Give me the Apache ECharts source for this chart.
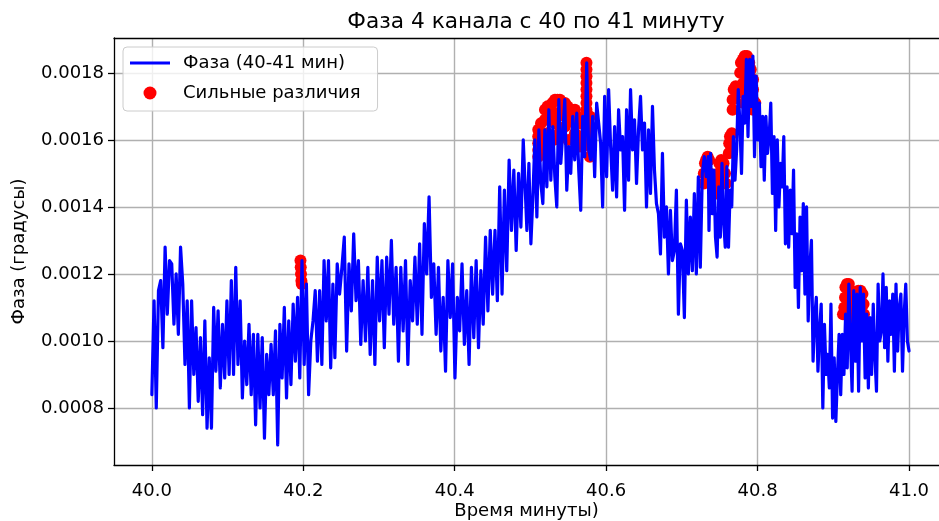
<!DOCTYPE html>
<html><head><meta charset="utf-8">
<script src="https://cdn.jsdelivr.net/npm/echarts@6/dist/echarts.min.js"></script>
<style>html,body{margin:0;padding:0;background:#fff}#c{width:939px;height:521px}</style>
</head><body><div id="c"></div>
<script>
const titleText = 'Фаза 4 канала с 40 по 41 минуту';
const xName = 'Время минуты)';
const yName = 'Фаза (градусы)';
const lineName = 'Фаза (40-41 мин)';
const scatterName = 'Сильные различия';
const xTicks = [40.0, 40.2, 40.4, 40.6, 40.8, 41.0];
const yTicks = [0.0008, 0.0010, 0.0012, 0.0014, 0.0016, 0.0018];

// phase readings, segment by segment (time span in minutes)
const phaseSegASpan = [40.0, 40.2391];
const phaseSegA = [
0.00084,0.00112,0.00080,0.00115,0.00118,0.00098,0.00128,0.00108,0.00124,0.00123,
0.00105,0.00120,0.00102,0.00128,0.00117,0.00093,0.00112,0.00080,0.00112,0.00090,
0.00104,0.00082,0.00101,0.00078,0.00106,0.00074,0.00095,0.00074,0.00110,0.00091,
0.00109,0.00086,0.00105,0.00089,0.00112,0.00090,0.00118,0.00090,0.00122,0.00093,
0.00112,0.00083,0.00100,0.00087,0.00105,0.00084,0.00102,0.00075,0.00102,0.00080,
0.00101,0.00071,0.00096,0.00084,0.00099,0.00084,0.00103,0.00069,0.00105,0.00089,
0.00110,0.00083,0.00106,0.00087,0.00111,0.00094,0.00113,0.00089,0.00124,0.00093,
0.00117,0.00084,0.00100,0.00106,0.00115,0.00094,0.00115,0.00093,0.00124,0.00106,
0.00124,0.00092,0.00117];
const phaseSegBSpan = [40.2417, 40.4905];
const phaseSegB = [
0.00095,0.00123,0.00114,0.00122,0.00131,0.00097,0.00123,0.00109,0.00132,0.00112,0.00124,
0.00099,0.00118,0.00100,0.00122,0.00096,0.00118,0.00093,0.00125,0.00106,0.00124,
0.00098,0.00125,0.00108,0.00130,0.00105,0.00122,0.00094,0.00122,0.00103,0.00124,
0.00093,0.00118,0.00106,0.00125,0.00105,0.00129,0.00102,0.00135,0.00120,0.00143,
0.00113,0.00123,0.00102,0.00122,0.00097,0.00113,0.00091,0.00124,0.00107,0.00123,
0.00089,0.00113,0.00103,0.00123,0.00099,0.00115,0.00093,0.00122,0.00101,0.00124,
0.00098,0.00121,0.00105,0.00131,0.00109,0.00133,0.00114,0.00133,0.00112,0.00146,
0.00114,0.00145,0.00121,0.00154,0.00133,0.00151,0.00127,0.00150,0.00134,0.00160];
const phaseSegCSpan = [40.4927, 40.7349];
const phaseSegC = [
0.00160,0.00133,0.00153,0.00129,0.00143,0.00160,0.00137,0.00163,0.00147,0.00141,
0.00163,0.00146,0.00169,0.00148,0.00164,0.00149,0.00140,0.00172,0.00153,0.00162,
0.00172,0.00145,0.00158,0.00150,0.00167,0.00154,0.00168,0.00151,0.00139,0.00167,
0.00155,0.00183,0.00157,0.00154,0.00167,0.00149,0.00171,0.00165,0.00159,0.00140,
0.00173,0.00149,0.00175,0.00158,0.00145,0.00164,0.00143,0.00169,0.00157,0.00161,
0.00139,0.00169,0.00148,0.00175,0.00157,0.00166,0.00147,0.00163,0.00173,0.00157,
0.00165,0.00140,0.00163,0.00144,0.00170,0.00151,0.00141,0.00138,0.00126,0.00156,
0.00131,0.00140,0.00120,0.00139,0.00124,0.00127,0.00145,0.00108,0.00129,0.00127,
0.00107,0.00142,0.00120,0.00137,0.00121,0.00144,0.00120,0.00149,0.00122,0.00150,
0.00155,0.00149,0.00155];
const phaseSegDSpan = [40.7358, 41.0];
const phaseSegD = [
0.00133,0.00156,0.00138,0.00151,0.00131,0.00125,0.00146,0.00131,0.00153,0.00136,
0.00128,0.00152,0.00128,0.00145,0.00140,0.00161,0.00148,0.00157,0.00175,0.00165,
0.00150,0.00173,0.00165,0.00184,0.00161,0.00184,0.00170,0.00185,0.00155,0.00179,
0.00160,0.00171,0.00152,0.00167,0.00148,0.00167,0.00156,0.00161,0.00171,0.00144,
0.00161,0.00133,0.00160,0.00140,0.00153,0.00146,0.00161,0.00129,0.00146,0.00128,
0.00145,0.00132,0.00151,0.00116,0.00132,0.00110,0.00137,0.00121,0.00141,0.00114,
0.00140,0.00106,0.00122,0.00130,0.00094,0.00107,0.00113,0.00091,0.00103,0.00111,
0.00080,0.00105,0.00090,0.00096,0.00086,0.00111,0.00077,0.00095,0.00076,0.00090,
0.00102,0.00084,0.00102,0.00090,0.00108,0.00092,0.00117,0.00100,0.00085,0.00115,
0.00094,0.00114,0.00085,0.00116,0.00100,0.00114,0.00089,0.00108,0.00086,0.00107,
0.00090,0.00111,0.00096,0.00085,0.00117,0.00100,0.00103,0.00120,0.00098,0.00116,
0.00094,0.00112,0.00102,0.00114,0.00091,0.00117,0.00097,0.00110,0.00114,0.00091,
0.00108,0.00117,0.00100,0.00097];

// strong-difference points (time, value)
const redTimes = [
40.1963,40.1966,40.1970,40.1975,40.1980,
40.5103,40.5103,40.5103,40.5103,40.5103,40.5140,40.5192,40.5192,40.5225,40.5258,40.5258,
40.5290,40.5324,40.5324,40.5324,40.5357,40.5390,40.5390,40.5423,40.5456,40.5456,40.5456,
40.5490,40.5522,40.5522,40.5555,40.5588,40.5588,40.5588,40.5620,40.5654,40.5654,40.5654,
40.5220,40.5300,40.5380,40.5500,
40.5740,40.5740,40.5740,40.5740,40.5740,40.5740,40.5740,40.5740,40.5740,40.5740,40.5740,40.5740,40.5740,
40.5785,40.5785,40.5785,40.5785,40.5785,
40.7290,40.7290,40.7305,40.7320,40.7340,40.7360,40.7370,
40.7460,40.7470,40.7480,40.7495,40.7520,40.7550,40.7570,40.7580,
40.7620,40.7625,40.7635,40.7660,40.7650,
40.7670,40.7670,40.7685,40.7710,40.7730,
40.7770,40.7780,40.7805,40.7830,40.7860,40.7890,40.7910,
40.7810,40.7810,40.7815,40.7820,
40.7940,40.7940,40.7940,40.7940,40.7970,
40.9128,40.9145,40.9155,40.9160,40.9180,40.9205,40.9230,40.9240,40.9245,40.9250,40.9255,40.9260,
40.9310,40.9330,40.9360,40.9385,40.9400,40.9405,40.9410];
const redValues = [
0.00124,0.00122,0.00120,0.00118,0.00117,
0.00155,0.00157,0.00159,0.00161,0.00163,0.00165,0.00166,0.00169,0.00170,0.00170,0.00167,
0.00171,0.00172,0.00168,0.00165,0.00172,0.00172,0.00168,0.00171,0.00171,0.00167,0.00164,
0.00170,0.00169,0.00166,0.00169,0.00169,0.00165,0.00162,0.00167,0.00165,0.00161,0.00158,
0.00162,0.00160,0.00162,0.00160,
0.00183,0.00181,0.00179,0.00177,0.00175,0.00173,0.00171,0.00169,0.00167,0.00165,0.00163,0.00161,0.00159,
0.00167,0.00164,0.00161,0.00158,0.00155,
0.00147,0.00150,0.00153,0.00154,0.00155,0.00154,0.00150,
0.00144,0.00147,0.00150,0.00153,0.00154,0.00153,0.00150,0.00147,
0.00156,0.00159,0.00161,0.00162,0.00157,
0.00169,0.00172,0.00175,0.00176,0.00174,
0.00180,0.00183,0.00184,0.00185,0.00185,0.00183,0.00181,
0.00180,0.00177,0.00174,0.00171,
0.00178,0.00175,0.00172,0.00169,0.00171,
0.00108,0.00110,0.00113,0.00116,0.00117,0.00117,0.00115,0.00112,0.00109,0.00106,0.00103,0.00100,
0.00113,0.00115,0.00115,0.00114,0.00111,0.00108,0.00105];

function segPoints(vals, span) {
  const n = vals.length;
  return vals.map((v, i) => [span[0] + (span[1] - span[0]) * i / (n - 1), v]);
}
const linePoints = [].concat(
  segPoints(phaseSegA, phaseSegASpan),
  segPoints(phaseSegB, phaseSegBSpan),
  segPoints(phaseSegC, phaseSegCSpan),
  segPoints(phaseSegD, phaseSegDSpan));
const redPoints = redTimes.map((t, i) => [t, redValues[i]]);

const FONT = 'DejaVu Sans';
const X_MIN = 39.95, X_MAX = 41.0396;
const chart = echarts.init(document.getElementById('c'), null, {renderer: 'canvas'});
chart.setOption({
  animation: false,
  backgroundColor: '#fff',
  textStyle: {fontFamily: FONT, color: '#000'},
  title: {
    text: titleText, left: 531, top: 6, textAlign: 'center',
    textStyle: {fontFamily: FONT, fontSize: 21.7, fontWeight: 'normal', color: '#000'}
  },
  grid: {left: 114, top: 38, right: 0, height: 427, containLabel: false, outerBoundsMode: 'none'},
  legend: {
    orient: 'vertical', left: 123, top: 47,
    data: [{name: lineName, icon: 'path://M0,0L40,0L40,3L0,3Z'}, {name: scatterName, icon: 'circle'}],
    symbolKeepAspect: true,
    itemWidth: 40, itemHeight: 13, itemGap: 10,
    padding: [6, 17, 8, 7],
    backgroundColor: 'rgba(255,255,255,0.8)',
    borderColor: '#cccccc', borderWidth: 1, borderRadius: 4,
    textStyle: {fontFamily: FONT, fontSize: 18, color: '#000', lineHeight: 20, padding: [0, 0, 0, 8]}
  },
  xAxis: [{
    type: 'value', min: X_MIN, max: X_MAX,
    name: xName, nameLocation: 'middle', nameGap: 37, nameMoveOverlap: false,
    nameTextStyle: {fontFamily: FONT, fontSize: 18, color: '#000'},
    axisLine: {show: true, onZero: false, lineStyle: {color: '#000', width: 1.3}},
    axisTick: {show: true, inside: false, length: 6, customValues: xTicks, lineStyle: {color: '#000', width: 1.3}},
    axisLabel: {customValues: xTicks, margin: 17, fontFamily: FONT, fontSize: 18, color: '#000',
      formatter: v => v.toFixed(1)},
    splitLine: {show: true, lineStyle: {color: '#b0b0b0', width: 1.4}}
  }, {
    type: 'value', position: 'top', min: X_MIN, max: X_MAX,
    axisLine: {show: true, onZero: false, lineStyle: {color: '#000', width: 1.3}},
    axisTick: {show: false}, axisLabel: {show: false}, splitLine: {show: false}
  }],
  yAxis: {
    type: 'value', min: 0.00063, max: 0.001904,
    name: yName, nameLocation: 'middle', nameGap: 86, nameRotate: 90, nameMoveOverlap: false,
    nameTextStyle: {fontFamily: FONT, fontSize: 18, color: '#000'},
    axisLine: {show: true, onZero: false, lineStyle: {color: '#000', width: 1.3}},
    axisTick: {show: true, inside: false, length: 6, customValues: yTicks, lineStyle: {color: '#000', width: 1.3}},
    axisLabel: {customValues: yTicks, margin: 10, fontFamily: FONT, fontSize: 18, color: '#000',
      formatter: v => v.toFixed(4)},
    splitLine: {show: true, lineStyle: {color: '#b0b0b0', width: 1.4}}
  },
  series: [
    {
      name: scatterName, type: 'scatter', data: redPoints, z: 1,
      symbol: 'circle', symbolSize: 12,
      itemStyle: {color: '#ff0000', opacity: 1}
    },
    {
      name: lineName, type: 'line', data: linePoints, z: 3,
      showSymbol: false, symbol: 'none',
      lineStyle: {color: '#0000ff', width: 3.2, cap: 'round', join: 'round'},
      itemStyle: {color: '#0000ff'}
    }
  ]
});
</script>
</body></html>
